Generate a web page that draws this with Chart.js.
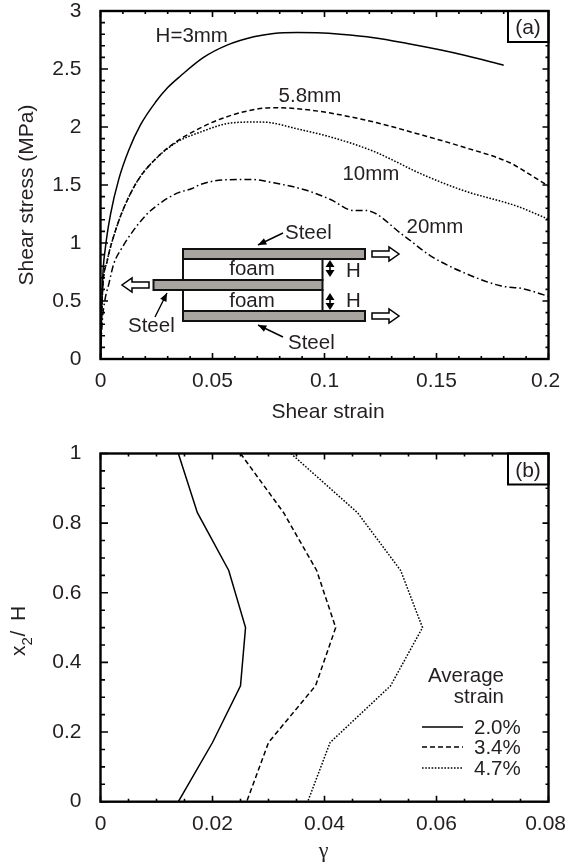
<!DOCTYPE html>
<html>
<head>
<meta charset="utf-8">
<style>
  html, body { margin: 0; padding: 0; background: #fff; }
  #wrap { position: relative; width: 566px; height: 863px; overflow: hidden; }
  canvas { position: absolute; left: 0; }
</style>
<script src="https://cdn.jsdelivr.net/npm/chart.js@4"></script>
</head>
<body>
<div id="wrap">
  <canvas id="chartA" width="566" height="430" style="top:0"></canvas>
  <canvas id="chartB" width="566" height="433" style="top:430px"></canvas>
</div>
<script>
// panel (a): shear stress vs shear strain
const strain3mm = [0, 0.0005, 0.001, 0.0022, 0.0045, 0.0082, 0.0126, 0.0179, 0.0246, 0.03, 0.0357, 0.046, 0.0565, 0.0684, 0.0773, 0.0878, 0.0967, 0.107, 0.122, 0.137, 0.152, 0.162, 0.18];
const stress3mm = [0, 0.39, 0.703, 0.962, 1.25, 1.553, 1.80, 2.02, 2.215, 2.34, 2.44, 2.6, 2.706, 2.778, 2.807, 2.815, 2.812, 2.80, 2.77, 2.72, 2.663, 2.62, 2.533];

const strain58mm = [0, 0.0005, 0.001, 0.003, 0.0067, 0.0112, 0.0171, 0.0246, 0.0335, 0.0424, 0.052, 0.0655, 0.0773, 0.0878, 0.1027, 0.122, 0.1414, 0.162, 0.183, 0.1888, 0.2];
const stress58mm = [0, 0.38, 0.616, 0.847, 1.107, 1.337, 1.553, 1.725, 1.87, 1.97, 2.057, 2.138, 2.167, 2.158, 2.12, 2.043, 1.942, 1.827, 1.69, 1.625, 1.49];

const strain10mm = [0, 0.0005, 0.001, 0.003, 0.0067, 0.0112, 0.0171, 0.0246, 0.0342, 0.0446, 0.058, 0.07, 0.0759, 0.0878, 0.1027, 0.122, 0.132, 0.1414, 0.162, 0.186, 0.2];
const stress10mm = [0, 0.38, 0.616, 0.847, 1.107, 1.337, 1.553, 1.725, 1.87, 1.956, 2.034, 2.043, 2.037, 1.984, 1.914, 1.79, 1.70, 1.611, 1.452, 1.317, 1.205];

const strain20mm = [0, 0.0007, 0.0019, 0.0037, 0.0059, 0.0097, 0.0141, 0.0201, 0.0246, 0.0335, 0.0409, 0.0446, 0.055, 0.067, 0.0773, 0.0923, 0.1027, 0.113, 0.1183, 0.1354, 0.1473, 0.162, 0.1786, 0.1888, 0.2];
const stress20mm = [0, 0.3, 0.5, 0.646, 0.819, 0.962, 1.092, 1.236, 1.314, 1.424, 1.47, 1.504, 1.544, 1.548, 1.519, 1.452, 1.375, 1.28, 1.28, 1.063, 0.89, 0.746, 0.631, 0.605, 0.54];

// panel (b): gamma across the foam height
const heightRatio = [1, 0.83, 0.664, 0.5, 0.333, 0.17, 0];
const gamma20 = [0.0139, 0.0173, 0.0229, 0.0259, 0.025, 0.02, 0.0139];
const gamma34 = [0.025, 0.0327, 0.0386, 0.042, 0.0384, 0.03, 0.0261];
const gamma47 = [0.034, 0.0459, 0.0536, 0.0575, 0.0518, 0.041, 0.037];

const legendLabels = ['2.0%', '3.4%', '4.7%'];

const SANS = '"Liberation Sans", Arial, sans-serif';
const FONT = '21px ' + SANS;
const NOTE_FONT = '20.5px ' + SANS;
const INK = '#231f20';
const SOLID = [];
const DASH = [5, 3];
const DOT = [1.6, 1.6];
const DASHDOT = [7, 3, 1.6, 3];

function points(xs, ys) {
  return xs.map((x, i) => ({ x: x, y: ys[i] }));
}

function curve(label, xs, ys, dash, smooth) {
  return {
    label: label,
    data: points(xs, ys),
    borderColor: '#000',
    borderWidth: 1.5,
    borderDash: dash,
    pointRadius: 0,
    showLine: true,
    tension: 0,
    cubicInterpolationMode: smooth ? 'monotone' : 'default',
    fill: false
  };
}

function isMajor(v, step) {
  return Math.abs(v / step - Math.round(v / step)) < 1e-6;
}

function sideTitle(ctx, text, baseX, midY) {
  ctx.save();
  ctx.translate(baseX, midY);
  ctx.rotate(-Math.PI / 2);
  ctx.textAlign = 'center';
  ctx.fillText(text, 0, 0);
  ctx.restore();
}

// ticks point inwards on all four sides, chart.js only draws them outwards
const framePlugin = {
  id: 'frame',
  afterDatasetsDraw(chart, args, opts) {
    const { ctx, chartArea: a, scales } = chart;
    ctx.save();
    ctx.strokeStyle = '#000';
    ctx.lineWidth = 1.6;
    scales.x.ticks.forEach(t => {
      const px = scales.x.getPixelForValue(t.value);
      const len = isMajor(t.value, opts.xMajor) ? 6 : 3;
      ctx.beginPath();
      ctx.moveTo(px, a.bottom); ctx.lineTo(px, a.bottom - len);
      ctx.moveTo(px, a.top); ctx.lineTo(px, a.top + len);
      ctx.stroke();
    });
    scales.y.ticks.forEach(t => {
      const py = scales.y.getPixelForValue(t.value);
      const major = isMajor(t.value, opts.yMajor);
      ctx.beginPath();
      ctx.moveTo(a.left, py); ctx.lineTo(a.left + (major ? 7.5 : 4.5), py);
      ctx.moveTo(a.right, py); ctx.lineTo(a.right - (major ? 6 : 3), py);
      ctx.stroke();
    });
    // panel tag box
    ctx.fillStyle = '#fff';
    ctx.fillRect(a.right - 40.5, a.top, 40.5, 31);
    ctx.lineWidth = 2;
    ctx.strokeRect(a.right - 40.5, a.top, 40.5, 31);
    ctx.lineWidth = 2.4;
    ctx.strokeRect(a.left, a.top, a.right - a.left, a.bottom - a.top);
    ctx.fillStyle = INK;
    ctx.font = FONT;
    ctx.textAlign = 'center';
    ctx.textBaseline = 'alphabetic';
    ctx.fillText(opts.tag, a.right - 20.5, a.top + 23);
    ctx.restore();
  }
};

function hollowArrow(ctx, x, y, dir) {
  // x is the tail, dir is +1 for right, -1 for left
  ctx.beginPath();
  ctx.moveTo(x, y - 3);
  ctx.lineTo(x + dir * 17, y - 3);
  ctx.lineTo(x + dir * 17, y - 7);
  ctx.lineTo(x + dir * 27, y);
  ctx.lineTo(x + dir * 17, y + 7);
  ctx.lineTo(x + dir * 17, y + 3);
  ctx.lineTo(x, y + 3);
  ctx.closePath();
  ctx.fillStyle = '#fff';
  ctx.fill();
  ctx.strokeStyle = '#000';
  ctx.lineWidth = 1.5;
  ctx.stroke();
}

function thinArrow(ctx, x0, y0, x1, y1) {
  const ang = Math.atan2(y1 - y0, x1 - x0);
  ctx.strokeStyle = '#000';
  ctx.fillStyle = '#000';
  ctx.lineWidth = 1.4;
  ctx.beginPath();
  ctx.moveTo(x0, y0);
  ctx.lineTo(x1, y1);
  ctx.stroke();
  ctx.beginPath();
  ctx.moveTo(x1, y1);
  ctx.lineTo(x1 - 9 * Math.cos(ang - 0.4), y1 - 9 * Math.sin(ang - 0.4));
  ctx.lineTo(x1 - 9 * Math.cos(ang + 0.4), y1 - 9 * Math.sin(ang + 0.4));
  ctx.closePath();
  ctx.fill();
}

function doubleArrow(ctx, x, y0, y1) {
  ctx.strokeStyle = '#000';
  ctx.fillStyle = '#000';
  ctx.lineWidth = 1.6;
  ctx.beginPath();
  ctx.moveTo(x, y0 + 3);
  ctx.lineTo(x, y1 - 3);
  ctx.stroke();
  [[y0, 1], [y1, -1]].forEach(([y, d]) => {
    ctx.beginPath();
    ctx.moveTo(x, y);
    ctx.lineTo(x - 4.5, y + d * 7);
    ctx.lineTo(x + 4.5, y + d * 7);
    ctx.closePath();
    ctx.fill();
  });
}

function plate(ctx, x0, x1, y0, y1) {
  ctx.fillStyle = '#a8a5a0';
  ctx.fillRect(x0, y0, x1 - x0, y1 - y0);
  ctx.strokeStyle = '#111';
  ctx.lineWidth = 2;
  ctx.strokeRect(x0, y0, x1 - x0, y1 - y0);
}

// curve names and the specimen sketch of panel (a)
const insetPlugin = {
  id: 'inset',
  afterDatasetsDraw(chart) {
    const { ctx, scales } = chart;
    ctx.save();
    ctx.font = NOTE_FONT;
    ctx.fillStyle = INK;
    ctx.textAlign = 'left';
    ctx.textBaseline = 'alphabetic';
    [['H=3mm', 0.0246, 2.732], ['5.8mm', 0.0795, 2.215], ['10mm', 0.108, 1.54], ['20mm', 0.1366, 1.09]].forEach(l => {
      ctx.fillText(l[0], scales.x.getPixelForValue(l[1]), scales.y.getPixelForValue(l[2]));
    });

    // foam blocks
    ctx.strokeStyle = '#111';
    ctx.lineWidth = 2;
    ctx.strokeRect(183, 259, 139.5, 21);
    ctx.strokeRect(183, 290, 139.5, 21);
    plate(ctx, 183, 365, 249, 259);
    plate(ctx, 153.5, 322.5, 280, 290);
    plate(ctx, 183, 365, 311, 321);

    hollowArrow(ctx, 372, 254, 1);
    hollowArrow(ctx, 372, 316, 1);
    hollowArrow(ctx, 149, 285, -1);

    thinArrow(ctx, 283, 233, 258, 245);
    thinArrow(ctx, 155, 317, 167, 293);
    thinArrow(ctx, 283, 337, 258, 325);
    doubleArrow(ctx, 330, 260, 277);
    doubleArrow(ctx, 330, 293, 310);

    ctx.fillStyle = INK;
    ctx.fillText('Steel', 285, 239);
    ctx.fillText('Steel', 128, 332);
    ctx.fillText('Steel', 288, 349);
    ctx.fillText('H', 346, 277);
    ctx.fillText('H', 346, 307);
    ctx.textAlign = 'center';
    ctx.fillText('foam', 252, 275);
    ctx.fillText('foam', 252, 307);

    ctx.font = FONT;
    ctx.fillText('Shear strain', 328, 418);
    sideTitle(ctx, 'Shear stress (MPa)', 33, 195);
    ctx.restore();
  }
};

// legend block and the axis titles of panel (b)
const legendPlugin = {
  id: 'strainLegend',
  afterDatasetsDraw(chart) {
    const { ctx } = chart;
    ctx.save();
    ctx.font = NOTE_FONT;
    ctx.fillStyle = INK;
    ctx.textBaseline = 'alphabetic';
    ctx.textAlign = 'right';
    ctx.fillText('Average', 504, 252);
    ctx.fillText('strain', 504, 273);
    ctx.textAlign = 'left';
    const ys = [297, 317, 338];
    chart.data.datasets.forEach((d, i) => {
      ctx.strokeStyle = '#000';
      ctx.lineWidth = 1.5;
      ctx.setLineDash(d.borderDash);
      ctx.beginPath();
      ctx.moveTo(422, ys[i]);
      ctx.lineTo(463, ys[i]);
      ctx.stroke();
      ctx.fillText(d.label, 474, ys[i] + 7);
    });
    ctx.setLineDash([]);

    ctx.font = '22px "Liberation Serif", serif';
    ctx.textAlign = 'center';
    ctx.fillText('γ', 323.5, 427);

    // x2 / H, the 2 has to sit lower than the rest
    ctx.translate(25, 226);
    ctx.rotate(-Math.PI / 2);
    ctx.textAlign = 'left';
    ctx.font = FONT;
    ctx.fillText('x', 0, 0);
    ctx.fillText('/', 19.5, 0);
    ctx.fillText('H', 35, 0);
    ctx.font = '15px ' + SANS;
    ctx.fillText('2', 10.5, 7);
    ctx.restore();
  }
};

function scaleOptions(min, max, step, major, fixedSize, axis) {
  return {
    type: 'linear',
    min: min,
    max: max,
    grid: { display: false },
    border: { display: false },
    ticks: {
      stepSize: step,
      autoSkip: false,
      maxRotation: 0,
      padding: axis === 'x' ? 2 : 11,
      color: INK,
      font: { family: SANS, size: 21 },
      // the trailing space keeps the last x label inside the page
      callback: v => {
        if (!isMajor(v, major)) return '';
        const text = String(Number(v.toFixed(3)));
        return axis === 'x' && v === max ? text + ' ' : text;
      }
    },
    afterFit: s => {
      if (axis === 'x') s.height = fixedSize; else s.width = fixedSize;
      // stop the tick labels from pushing the plot area around
      s.paddingLeft = s.paddingRight = s.paddingTop = s.paddingBottom = 0;
    }
  };
}

new Chart(document.getElementById('chartA'), {
  type: 'scatter',
  data: {
    datasets: [
      curve('H=3mm', strain3mm, stress3mm, SOLID, true),
      curve('5.8mm', strain58mm, stress58mm, DASH, true),
      curve('10mm', strain10mm, stress10mm, DOT, true),
      curve('20mm', strain20mm, stress20mm, DASHDOT, true)
    ]
  },
  options: {
    responsive: false,
    animation: false,
    layout: { padding: { top: 11, right: 17.5, left: 0, bottom: 0 } },
    plugins: {
      legend: { display: false },
      tooltip: { enabled: false },
      frame: { xMajor: 0.05, yMajor: 0.5, tag: '(a)' }
    },
    scales: {
      x: scaleOptions(0, 0.2, 0.01, 0.05, 71, 'x'),
      y: scaleOptions(0, 3, 0.1, 0.5, 100.5, 'y')
    }
  },
  plugins: [framePlugin, insetPlugin]
});

new Chart(document.getElementById('chartB'), {
  type: 'scatter',
  data: {
    datasets: [
      curve(legendLabels[0], gamma20, heightRatio, SOLID, false),
      curve(legendLabels[1], gamma34, heightRatio, DASH, false),
      curve(legendLabels[2], gamma47, heightRatio, DOT, false)
    ]
  },
  options: {
    responsive: false,
    animation: false,
    layout: { padding: { top: 23.5, right: 17.5, left: 0, bottom: 0 } },
    plugins: {
      legend: { display: false },
      tooltip: { enabled: false },
      frame: { xMajor: 0.02, yMajor: 0.2, tag: '(b)' }
    },
    scales: {
      x: scaleOptions(0, 0.08, 0.005, 0.02, 61.3, 'x'),
      y: scaleOptions(0, 1, 0.05, 0.2, 100.5, 'y')
    }
  },
  plugins: [framePlugin, legendPlugin]
});
</script>
</body>
</html>
